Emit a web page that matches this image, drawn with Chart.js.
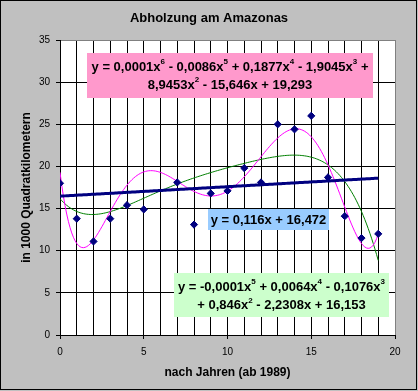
<!DOCTYPE html>
<html><head><meta charset="utf-8">
<script src="https://cdn.jsdelivr.net/npm/chart.js@4/dist/chart.umd.min.js"></script>
<style>html,body{margin:0;padding:0;background:#fff}canvas{display:block}</style>
</head><body>
<canvas id="c" width="418" height="391"></canvas>
<script>
// ---- data ----
const years = [0,1,2,3,4,5,6,7,8,9,10,11,12,13,14,15,16,17,18,19];
const deforestation = [18.0,13.8,11.1,13.8,15.4,14.9,29.1,18.1,13.1,16.8,17.1,19.8,18.1,25.0,24.4,26.0,18.7,14.1,11.5,12.0];
const xTickValues = [0,5,10,15,20];
const yTickValues = [0,5,10,15,20,25,30,35];
const chartTitle = 'Abholzung am Amazonas';
const xTitle = 'nach Jahren (ab 1989)';
const yTitle = 'in 1000 Quadratkilometern';
const eqPoly6 = ['y = 0,0001x^6 - 0,0086x^5 + 0,1877x^4 - 1,9045x^3 +', '8,9453x^2 - 15,646x + 19,293'];
const eqLinear = ['y = 0,116x + 16,472'];
const eqPoly5 = ['y = -0,0001x^5 + 0,0064x^4 - 0,1076x^3', '+ 0,846x^2 - 2,2308x + 16,153'];

// ---- least-squares trendlines (as Excel computes them from the data) ----
function polyfit(xs, ys, deg) {
  const lo = Math.min(...xs), hi = Math.max(...xs);
  const c = (lo + hi) / 2, s = (hi - lo) / 2;
  const n = deg + 1;
  const A = Array.from({length: n}, () => new Array(n + 1).fill(0));
  xs.forEach((x, i) => {
    const t = (x - c) / s;
    const p = []; for (let k = 0; k < n; k++) p.push(Math.pow(t, k));
    for (let r = 0; r < n; r++) { for (let q = 0; q < n; q++) A[r][q] += p[r] * p[q]; A[r][n] += p[r] * ys[i]; }
  });
  for (let col = 0; col < n; col++) {
    let piv = col;
    for (let r = col + 1; r < n; r++) if (Math.abs(A[r][col]) > Math.abs(A[piv][col])) piv = r;
    [A[col], A[piv]] = [A[piv], A[col]];
    for (let r = 0; r < n; r++) {
      if (r === col) continue;
      const f = A[r][col] / A[col][col];
      for (let q = col; q <= n; q++) A[r][q] -= f * A[col][q];
    }
  }
  const coef = A.map((row, i) => row[n] / row[i][i] || row[n] / A[i][i]);
  return x => { const t = (x - c) / s; let v = 0; for (let k = n - 1; k >= 0; k--) v = v * t + coef[k]; return v; };
}
const fLin = polyfit(years, deforestation, 1);
const fP5 = polyfit(years, deforestation, 5);
const fP6 = polyfit(years, deforestation, 6);
const xFrom = years[0], xTo = years[years.length - 1];
function sample(f) { const out = []; for (let i = 0; i <= (xTo - xFrom) * 10; i++) { const x = xFrom + i / 10; out.push({x, y: f(x)}); } return out; }

const points = years.map((x, i) => ({x, y: deforestation[i]}));
const FONT = "'Liberation Sans', Arial, sans-serif";
Chart.defaults.font.family = FONT;
Chart.defaults.color = '#000';

// ---- plugins: background, border, equation boxes ----
function drawRich(ctx, text, cx, cy) {
  const parts = [];
  text.split(/(\^\d)/).forEach(p => { if (!p) return; if (p[0] === '^') parts.push({t: p.slice(1), sup: true}); else parts.push({t: p, sup: false}); });
  const main = 'bold 13px ' + FONT, sup = 'bold 8px ' + FONT;
  let w = 0;
  parts.forEach(p => { ctx.font = p.sup ? sup : main; p.w = ctx.measureText(p.t).width; w += p.w; });
  let x = cx - w / 2;
  ctx.textBaseline = 'middle'; ctx.textAlign = 'left'; ctx.fillStyle = '#000';
  parts.forEach(p => { ctx.font = p.sup ? sup : main; ctx.fillText(p.t, x, p.sup ? cy - 5 : cy); x += p.w; });
}
const decor = {
  id: 'decor',
  beforeDraw(chart) {
    const {ctx, chartArea: a} = chart;
    ctx.save();
    ctx.fillStyle = '#C0C0C0'; ctx.fillRect(0, 0, chart.width, chart.height);
    ctx.fillStyle = '#FFFFFF'; ctx.fillRect(a.left, a.top, a.right - a.left, a.bottom - a.top);
    ctx.restore();
  },
  afterDatasetsDraw(chart, args, opts) {
    const ctx = chart.ctx;
    ctx.save();
    opts.boxes.forEach(b => {
      ctx.fillStyle = b.bg; ctx.fillRect(b.x, b.y, b.w, b.h);
      b.lines.forEach((l, i) => drawRich(ctx, l, b.x + b.w / 2, b.ly[i]));
    });
    ctx.restore();
  },
  afterDraw(chart) {
    const ctx = chart.ctx;
    ctx.save(); ctx.strokeStyle = '#000'; ctx.lineWidth = 1; ctx.strokeRect(0.5, 0.5, 416, 389); ctx.restore();
  }
};

new Chart(document.getElementById('c'), {
  type: 'scatter',
  data: {
    datasets: [
      {data: points, pointStyle: 'rectRot', pointRadius: 3.6, pointBackgroundColor: '#000080', pointBorderColor: '#000080', borderWidth: 1, showLine: false},
      {data: sample(fLin), showLine: true, pointRadius: 0, borderColor: '#000080', borderWidth: 3},
      {data: sample(fP6), showLine: true, pointRadius: 0, borderColor: '#FF00FF', borderWidth: 1},
      {data: sample(fP5), showLine: true, pointRadius: 0, borderColor: '#008000', borderWidth: 1}
    ]
  },
  options: {
    responsive: false, animation: false,
    layout: {padding: 0},
    plugins: {
      legend: {display: false}, tooltip: {enabled: false},
      title: {display: true, text: chartTitle, font: {size: 13, weight: 'bold'}, padding: {top: 10.4, bottom: 14}, color: '#000'},
      decor: {boxes: [
        {x: 87, y: 53, w: 286, h: 45, bg: '#FF99CC', lines: eqPoly6, ly: [67, 85]},
        {x: 208, y: 209, w: 121, h: 21, bg: '#99CCFF', lines: eqLinear, ly: [220]},
        {x: 174, y: 273, w: 215, h: 44, bg: '#CCFFCC', lines: eqPoly5, ly: [287, 305.5]}
      ]}
    },
    scales: {
      x: {
        type: 'linear', min: 0, max: 20,
        afterBuildTicks: s => { s.ticks = []; for (let v = 0; v <= 20; v++) s.ticks.push({value: v}); },
        ticks: {autoSkip: false, maxRotation: 0, padding: 7, font: {size: 10}, color: '#000',
          callback: v => xTickValues.includes(v) ? String(v) : ''},
        grid: {color: c => c.tick && c.tick.value === 20 ? '#808080' : '#000000', lineWidth: 1, tickLength: 4,
          tickColor: c => c.tick && xTickValues.includes(c.tick.value) ? '#000000' : 'rgba(0,0,0,0)'},
        border: {color: '#000', width: 1},
        title: {display: true, text: xTitle, font: {size: 12, weight: 'bold'}, padding: {top: 0, bottom: 11.4}, color: '#000'},
        afterFit: s => { s.height = 56; }
      },
      y: {
        type: 'linear', min: 0, max: 35,
        afterBuildTicks: s => { s.ticks = yTickValues.map(v => ({value: v})); },
        ticks: {padding: 6, font: {size: 10}, color: '#000'},
        grid: {color: c => c.tick && c.tick.value === 35 ? '#808080' : '#000000', lineWidth: 1, tickLength: 4, tickColor: '#000'},
        border: {color: '#000', width: 1},
        title: {display: true, text: yTitle, font: {size: 12, weight: 'bold'}, padding: {top: 19.4, bottom: 0}, color: '#000'},
        afterFit: s => { s.width = 60; }
      },
      yR: {
        type: 'linear', position: 'right', display: true,
        grid: {display: false, drawTicks: false}, ticks: {display: false}, border: {display: false},
        afterFit: s => { s.width = 23; }
      }
    }
  },
  plugins: [decor]
});
</script>
</body></html>
